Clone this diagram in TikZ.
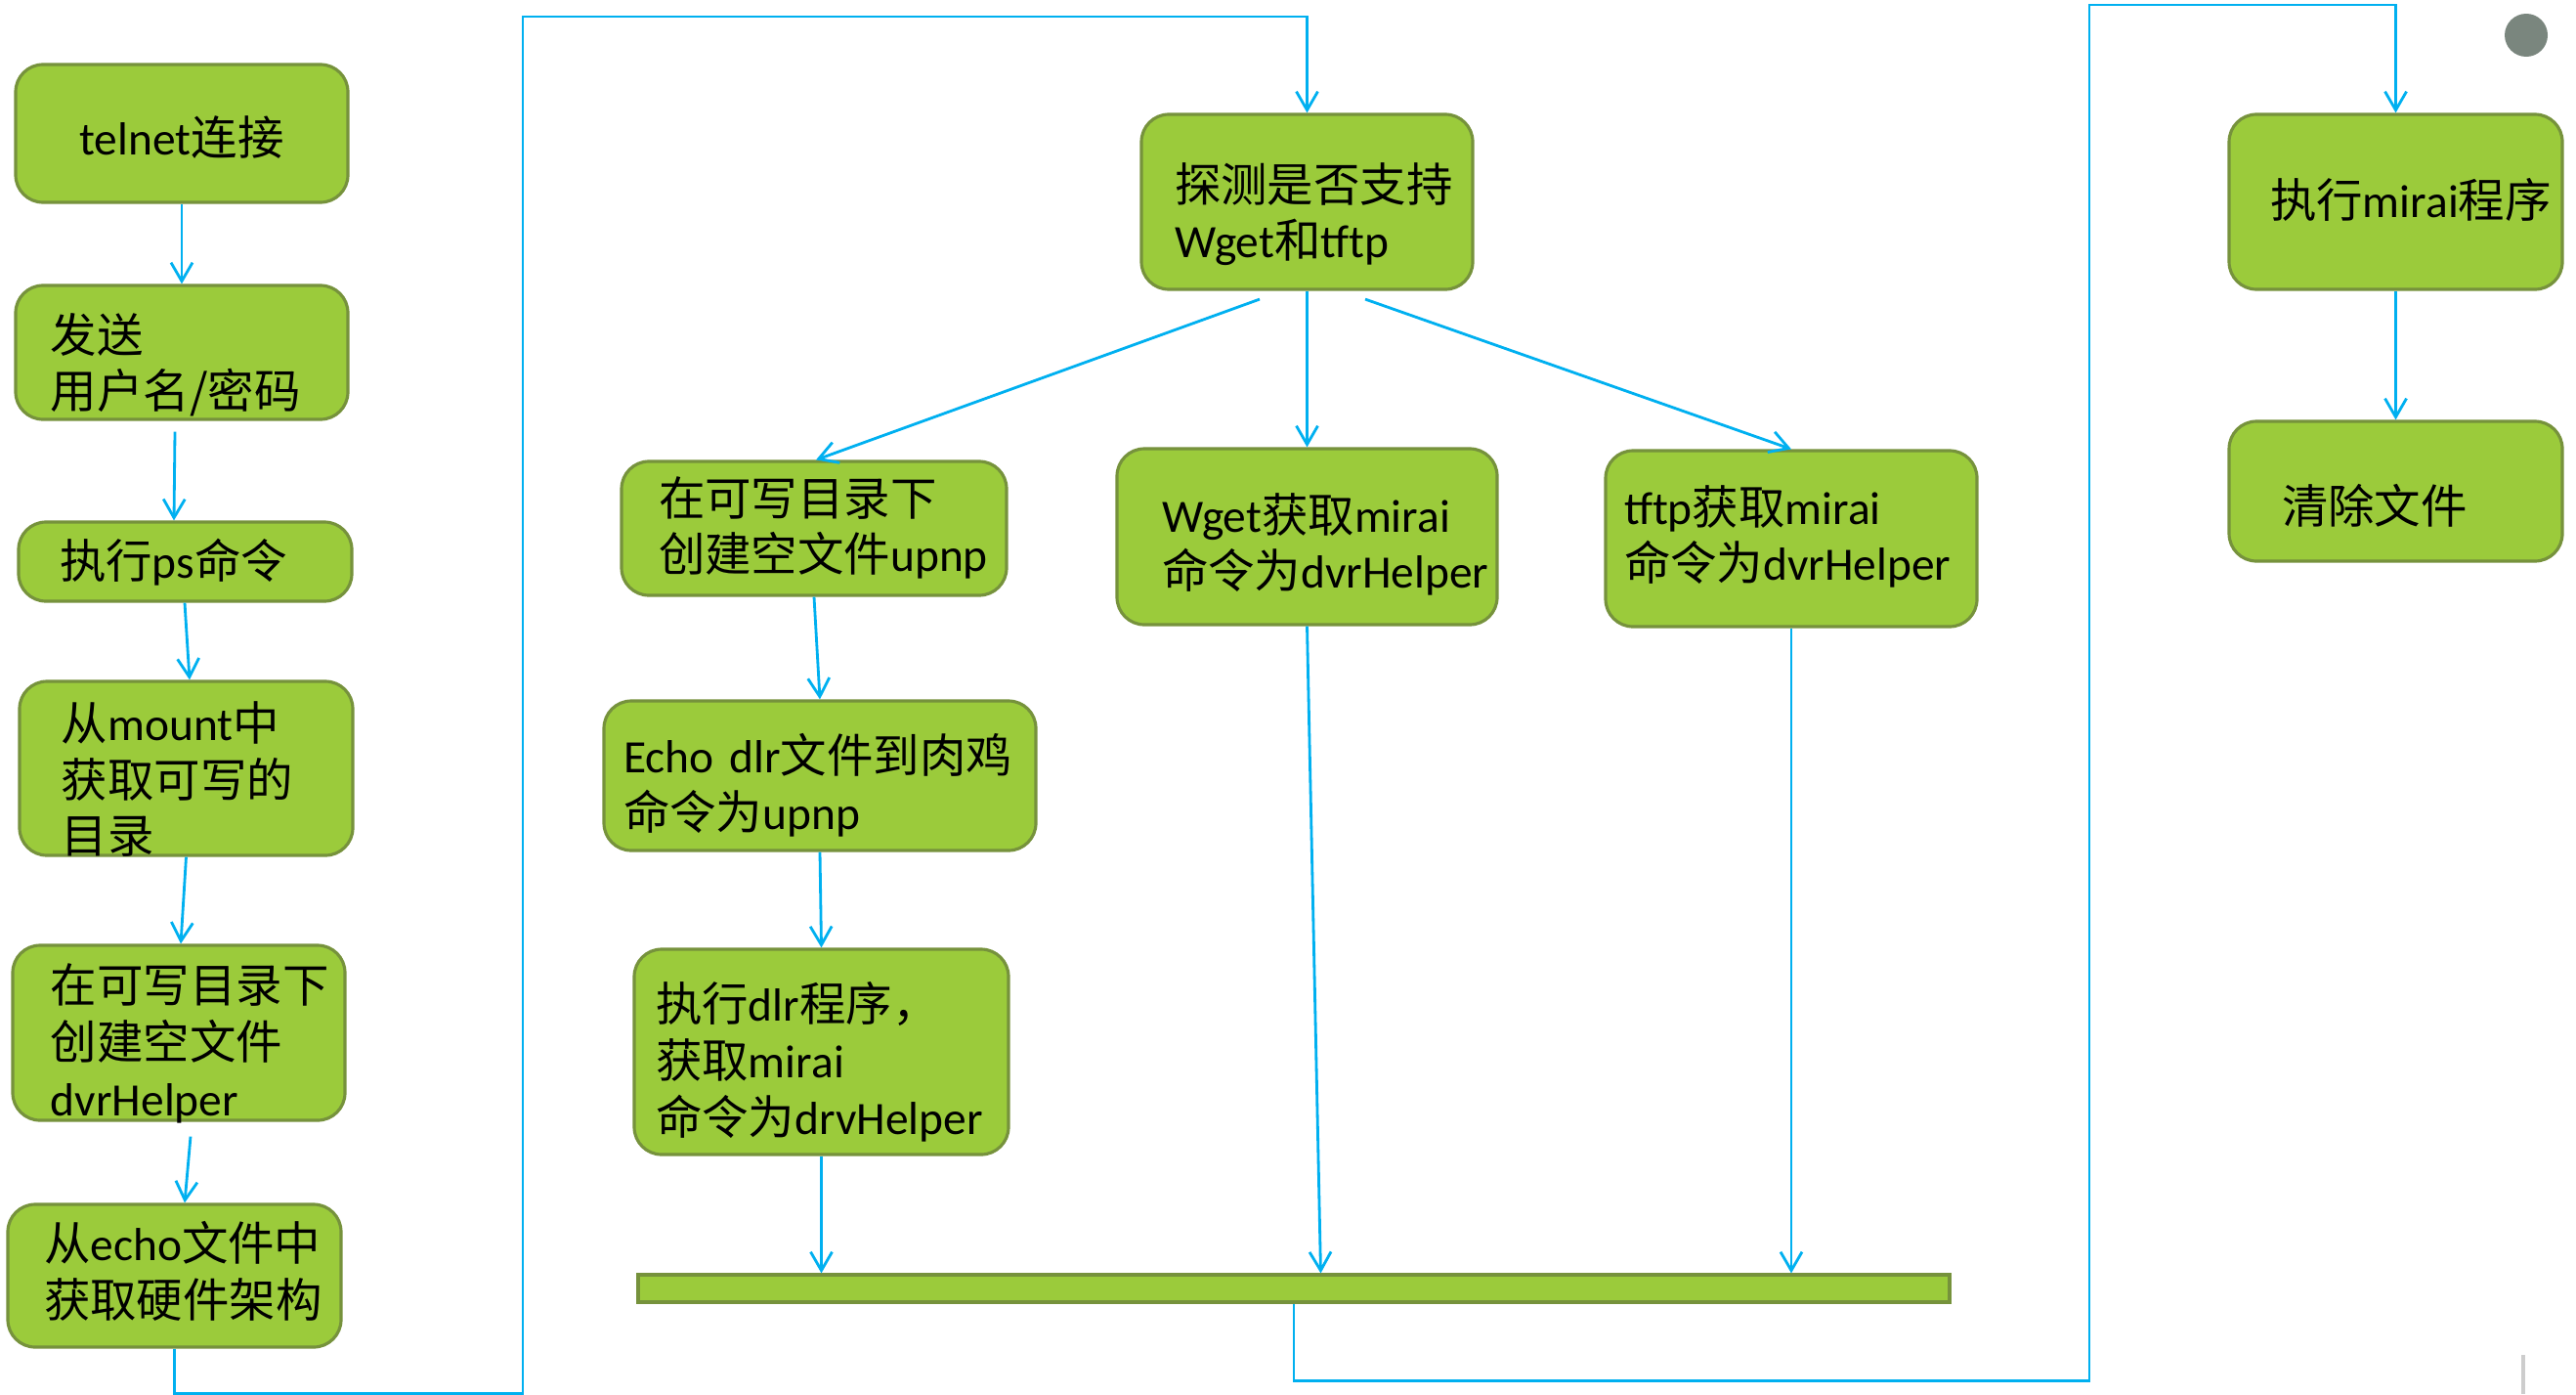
\documentclass[tikz,border=0pt]{standalone}
\usepackage{fontspec}
\setmainfont{Carlito}
\newfontfamily\cjk{Noto Sans CJK SC}
\newcommand{\zh}[1]{{\cjk #1}}
\usetikzlibrary{arrows.meta}
\definecolor{stagefill}{RGB}{155,203,59}
\definecolor{stageedge}{RGB}{118,146,60}
\definecolor{flowblue}{RGB}{0,176,240}
\definecolor{dotgrey}{RGB}{122,134,126}
\definecolor{edgegrey}{RGB}{205,205,205}
\tikzset{
  stage/.style={draw=stageedge, fill=stagefill, line width=0.9pt, rounded corners=0.28cm,
    align=left, inner ysep=0pt, font=\fontsize{13.5}{16.5}\selectfont},
  band/.style 2 args={text height=#1, text depth=#2},
  flow/.style={draw=flowblue, line width=0.8pt, -{Straight Barb[length=0.19cm,width=0.22cm]}},
}
\begin{document}
\begin{tikzpicture}
\useasboundingbox (0,0) rectangle (26.36,-14.26);
\node[stage, align=center, text width=2.8cm, inner xsep=0.3cm, band={0.92cm}{0.49cm}] (telnet) at (1.86,-1.365) {telnet\zh{连接}};
\node[stage, text width=2.68cm, inner xsep=0.36cm, band={0.68cm}{0.69cm}] (send) at (1.86,-3.605) {\zh{发送}\\\zh{用户名/密码}};
\node[stage, text width=2.57cm, inner xsep=0.42cm, band={0.57cm}{0.24cm}] (ps) at (1.895,-5.745) {\zh{执行}ps\zh{命令}};
\node[stage, text width=2.55cm, inner xsep=0.43cm, band={0.60cm}{1.18cm}] (mount) at (1.905,-7.86) {\zh{从}mount\zh{中}\\\zh{获取可写的}\\\zh{目录}};
\node[stage, text width=2.62cm, inner xsep=0.39cm, band={0.58cm}{1.21cm}] (dvr) at (1.83,-10.565) {\zh{在可写目录下}\\\zh{创建空文件}\\dvrHelper};
\node[stage, text width=2.67cm, inner xsep=0.37cm, band={0.57cm}{0.89cm}] (echo) at (1.785,-13.05) {\zh{从}echo\zh{文件中}\\\zh{获取硬件架构}};
\node[stage, text width=2.71cm, inner xsep=0.34cm, band={0.89cm}{0.90cm}] (probe) at (13.375,-2.065) {\zh{探测是否支持}\\Wget\zh{和}tftp};
\node[stage, text width=3.18cm, inner xsep=0.38cm, band={0.55cm}{0.82cm}] (upnp) at (8.33,-5.405) {\zh{在可写目录下}\\\zh{创建空文件}upnp};
\node[stage, text width=2.97cm, inner xsep=0.46cm, band={0.85cm}{0.95cm}] (wget) at (13.375,-5.49) {Wget\zh{获取}mirai\\\zh{命令为}dvrHelper};
\node[stage, text width=3.42cm, inner xsep=0.19cm, band={0.75cm}{1.05cm}] (tftp) at (18.33,-5.51) {tftp\zh{获取}mirai\\\zh{命令为}dvrHelper};
\node[stage, text width=4.02cm, inner xsep=0.2cm, band={0.73cm}{0.80cm}] (echodlr) at (8.39,-7.935) {Echo dlr\zh{文件到肉鸡}\\\zh{命令为}upnp};
\node[stage, text width=3.39cm, inner xsep=0.22cm, band={0.73cm}{1.37cm}] (dlr) at (8.405,-10.76) {\zh{执行}dlr\zh{程序，}\\\zh{获取}mirai\\\zh{命令为}drvHelper};
\node[stage, text width=2.57cm, inner xsep=0.42cm, band={1.05cm}{0.74cm}] (mirai) at (24.515,-2.065) {\zh{执行}mirai\zh{程序}};
\node[stage, text width=2.33cm, inner xsep=0.54cm, band={1.04cm}{0.39cm}] (clean) at (24.515,-5.025) {\zh{清除文件}};
\node[draw=stageedge, fill=stagefill, line width=0.9pt, minimum width=13.42cm, minimum height=0.28cm, inner sep=0pt] (join) at (13.24,-13.18) {};
\coordinate (loopa) at (5.35,-0.17);
\coordinate (loopb) at (21.38,-0.05);
\draw[flow] (telnet.south) -- (send.north);
\draw[flow] ([xshift=-0.07cm,yshift=-0.11cm]send.south) -- ([xshift=-0.115cm]ps.north);
\draw[flow] ([xshift=-0.005cm]ps.south) -- ([xshift=0.035cm]mount.north);
\draw[flow] (mount.south) -- ([xshift=0.02cm]dvr.north);
\draw[flow] ([xshift=0.12cm,yshift=-0.15cm]dvr.south) -- ([xshift=0.105cm]echo.north);
\draw[flow] (echo.south) -- ++(0,-0.46) -| (loopa) -| (probe.north);
\draw[flow] ([xshift=-0.485cm,yshift=-0.085cm]probe.south) -- ([xshift=0.02cm]upnp.north);
\draw[flow] (probe.south) -- (wget.north);
\draw[flow] ([xshift=0.595cm,yshift=-0.085cm]probe.south) -- (tftp.north);
\draw[flow] (upnp.south) -- (echodlr.north);
\draw[flow] (echodlr.south) -- (dlr.north);
\draw[flow] (dlr.south) -- (dlr.south |- join.north);
\draw[flow] (wget.south) -- ([xshift=0.14cm]wget.south |- join.north);
\draw[flow] (tftp.south) -- (tftp.south |- join.north);
\draw[flow] (join.south) -- ++(0,-0.79) -| (loopb) -| (mirai.north);
\draw[flow] (mirai.south) -- (clean.north);
\fill[dotgrey] (25.85,-0.36) circle (0.22);
\draw[edgegrey, line width=1.2pt] (25.82,-13.86) -- (25.82,-14.26);
\end{tikzpicture}
\end{document}
